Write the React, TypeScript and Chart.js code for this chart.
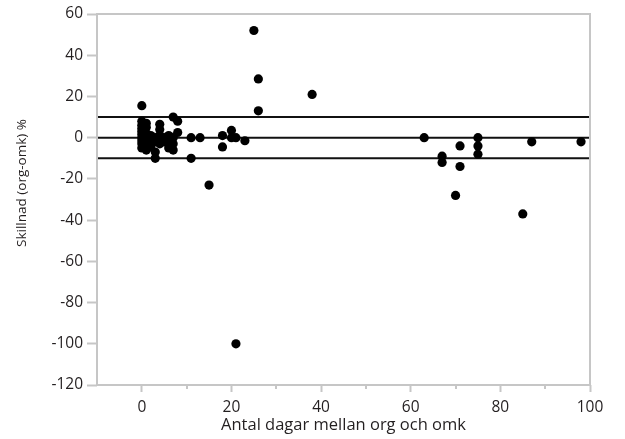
import React, { useEffect, useRef } from "react";
import { Chart, registerables } from "chart.js";

Chart.register(...registerables);

// Antal dagar mellan org och omk (x) och Skillnad (org-omk) % (y)
const daysX = [
  0, 0, 0, 0, 0, 0, 0, 0, 0, 0,
  1, 1, 1, 1, 1, 1, 1,
  2, 2, 2,
  3, 3, 3, 3,
  4, 4, 4, 4, 4,
  5, 5,
  6, 6, 6,
  7, 7, 7, 7,
  8, 8,
  11, 11, 13, 15, 18, 18, 20, 20, 21, 21, 23,
  25, 26, 26, 38,
  63, 67, 67, 70, 71, 71, 75, 75, 75, 85, 87, 98,
];
const diffY = [
  15.5, 8, 6, 4.5, 3, 1.5, 0, -1.5, -3, -5,
  7, 5, 2, 0, -2, -4, -6,
  1, -1, -4.5,
  0, -2, -7, -10,
  6.5, 4, 1, -1, -3,
  0, -2,
  1, -1, -5,
  10, 0, -3, -6,
  8, 2.5,
  0, -10, 0, -23, 1, -4.5, 3.5, 0, 0, -100, -1.5,
  52, 28.5, 13, 21,
  0, -9, -12, -28, -4, -14, 0, -4, -8, -37, -2, -2,
];
const refLevels = [10, 0, -10];
const xMajorTicks = [0, 20, 40, 60, 80, 100];
const xMinorTicks = [10, 30, 50, 70, 90];
const xRange = [-10, 100];
const yRange = [-120, 60];
const yStep = 20;
const xTitle = "Antal dagar mellan org och omk";
const yTitle = "Skillnad (org-omk) %";

const FONT = "'Open Sans', 'Liberation Sans', sans-serif";
const TEXT = "#231f20";
const AXIS = "#c6c6c6";

export default function App() {
  const ref = useRef<HTMLCanvasElement | null>(null);

  useEffect(() => {
    if (!ref.current) return;

    const points = daysX.map((x, i) => ({ x, y: diffY[i] }));
    const refSets = refLevels.map((lvl) => ({
      type: "line" as const,
      data: [
        { x: xRange[0], y: lvl },
        { x: xRange[1], y: lvl },
      ],
      borderColor: "#111",
      borderWidth: 2,
      pointRadius: 0,
      fill: false,
      order: 2,
    }));

    const framePlugin = {
      id: "frameAndExtras",
      afterDraw(chart: any) {
        const { ctx, chartArea, scales } = chart;
        const xs = scales.x;
        ctx.save();
        // frame
        ctx.strokeStyle = AXIS;
        ctx.lineWidth = 2;
        ctx.strokeRect(
          chartArea.left,
          chartArea.top,
          chartArea.right - chartArea.left,
          chartArea.bottom - chartArea.top
        );
        // minor x ticks
        ctx.beginPath();
        for (const v of xMinorTicks) {
          const px = Math.round(xs.getPixelForValue(v));
          ctx.moveTo(px, chartArea.bottom);
          ctx.lineTo(px, chartArea.bottom + 4);
        }
        ctx.stroke();
        // y title
        ctx.fillStyle = TEXT;
        ctx.font = `13.5px ${FONT}`;
        ctx.textAlign = "center";
        ctx.textBaseline = "middle";
        ctx.translate(22, 183);
        ctx.rotate(-Math.PI / 2);
        ctx.fillText(yTitle, 0, 0);
        ctx.restore();
      },
    };

    const chart = new Chart(ref.current, {
      type: "scatter",
      data: {
        datasets: [
          {
            type: "scatter",
            data: points,
            backgroundColor: "#000",
            borderWidth: 0,
            pointRadius: 4.6,
            pointHoverRadius: 4.6,
            order: 1,
          } as any,
          ...(refSets as any[]),
        ],
      },
      options: {
        responsive: false,
        animation: false,
        events: [],
        layout: { padding: { left: 0, top: 14, right: 35, bottom: 0 } },
        plugins: {
          legend: { display: false },
          tooltip: { enabled: false },
        },
        scales: {
          x: {
            type: "linear",
            min: xRange[0],
            max: xRange[1],
            afterBuildTicks: (scale: any) => {
              scale.ticks = xMajorTicks.map((v) => ({ value: v }));
            },
            afterFit: (scale: any) => {
              scale.height = 54;
            },
            border: { display: false },
            grid: {
              drawOnChartArea: false,
              drawTicks: true,
              tickLength: 7,
              tickWidth: 2,
              tickColor: AXIS,
              color: AXIS,
            },
            ticks: {
              padding: 6,
              color: TEXT,
              font: { family: FONT, size: 15.5 },
              maxRotation: 0,
              autoSkip: false,
            },
            title: {
              display: true,
              text: xTitle,
              color: TEXT,
              font: { family: FONT, size: 16.5 },
              padding: { top: 0, bottom: 4 },
            },
          },
          y: {
            type: "linear",
            min: yRange[0],
            max: yRange[1],
            afterFit: (scale: any) => {
              scale.width = 97;
            },
            border: { display: false },
            grid: {
              drawOnChartArea: false,
              drawTicks: true,
              tickLength: 10,
              tickWidth: 2,
              tickColor: AXIS,
              color: AXIS,
            },
            ticks: {
              stepSize: yStep,
              padding: 4,
              color: TEXT,
              font: { family: FONT, size: 15.5 },
            },
            title: { display: false },
          },
        },
      },
      plugins: [framePlugin],
    } as any);

    return () => chart.destroy();
  }, []);

  return (
    <div style={{ position: "absolute", left: 0, top: 0, width: 625, height: 439, background: "#fff" }}>
      <canvas ref={ref} width={625} height={439} />
    </div>
  );
}
